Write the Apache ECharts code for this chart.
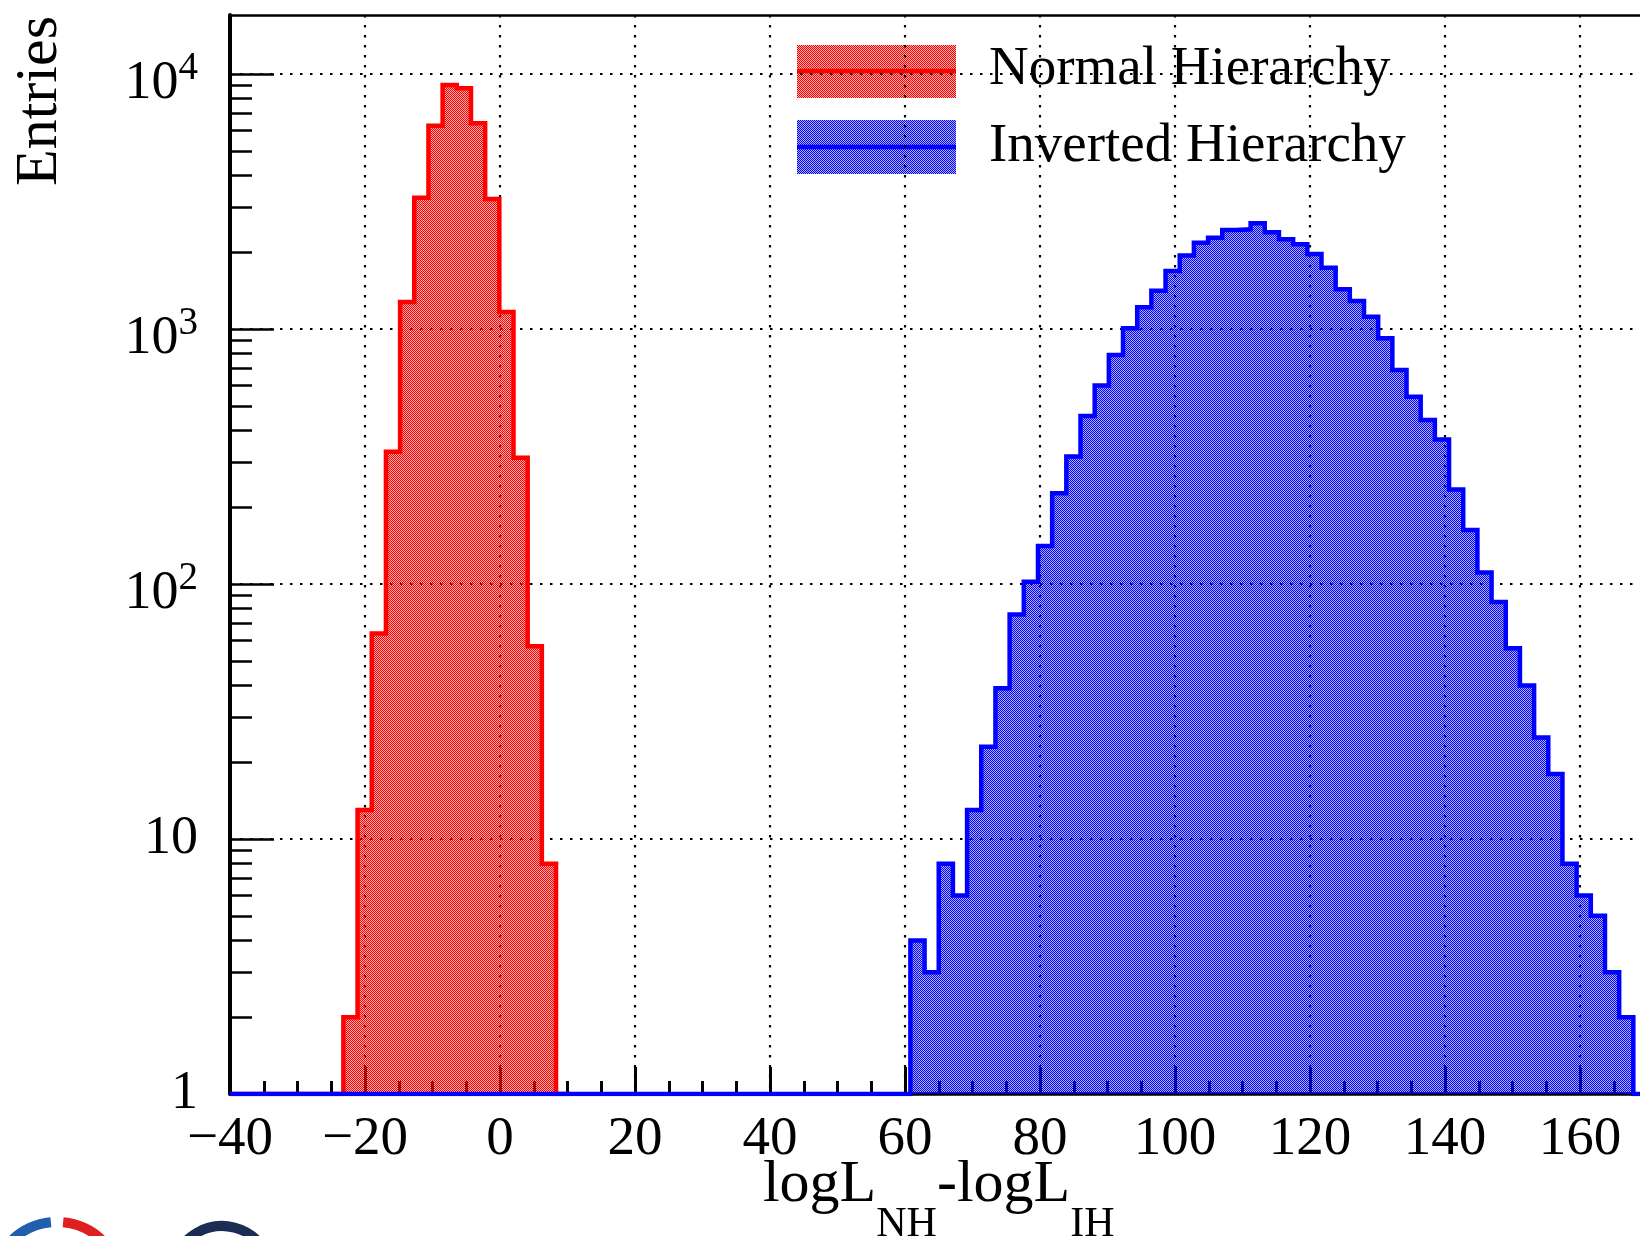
<!DOCTYPE html>
<html>
<head>
<meta charset="utf-8">
<script src="https://cdn.jsdelivr.net/npm/echarts@6/dist/echarts.min.js"></script>
<style>
html, body { margin: 0; padding: 0; background: #fff; }
#chart { width: 1640px; height: 1236px; }
</style>
</head>
<body>
<div id="chart"></div>
<script>
// histogram binning: 100 bins from -40 to 170
const binLo = -40;
const binWidth = 2.1;
const nBins = 100;

// Normal Hierarchy entries, first non-empty bin is 8
const nhFirstBin = 8;
const nhCounts = [2, 13, 64, 330, 1276, 3273, 6270, 9057, 8790, 6410, 3234, 1166, 313, 57, 8];

// Inverted Hierarchy entries, first non-empty bin is 48
const ihFirstBin = 48;
const ihCounts = [4, 3, 8, 6, 13, 23, 39, 76, 102, 141, 227, 316, 456, 601, 791, 1006, 1217, 1413,
  1687, 1944, 2179, 2279, 2445, 2460, 2596, 2395, 2248, 2148, 1968, 1740, 1431, 1288, 1117, 920,
  691, 543, 440, 369, 235, 163, 111, 85, 56, 40, 25, 18, 8, 6, 5, 3, 2];

const xMin = -40, xMax = 170;
const yMin = 1, yMax = 17036;
const yMajorTicks = [1, 10, 100, 1000, 10000];
const yMinorTicks = [2, 3, 4, 5, 6, 7, 8, 9, 20, 30, 40, 50, 60, 70, 80, 90,
  200, 300, 400, 500, 600, 700, 800, 900, 2000, 3000, 4000, 5000, 6000, 7000, 8000, 9000];
const xMinorTicks = [-35, -30, -25, -15, -10, -5, 5, 10, 15, 25, 30, 35, 45, 50, 55, 65, 70, 75,
  85, 90, 95, 105, 110, 115, 125, 130, 135, 145, 150, 155, 165];

const serif = "'Liberation Serif', 'DejaVu Serif', serif";

// fine checker fill like ROOT style 3001
function tile(solid, light) {
    const c = document.createElement('canvas');
    c.width = 2; c.height = 2;
    const g = c.getContext('2d');
    g.fillStyle = light;
    g.fillRect(1, 0, 1, 1);
    g.fillRect(0, 1, 1, 1);
    g.fillStyle = solid;
    g.fillRect(0, 0, 1, 1);
    g.fillRect(1, 1, 1, 1);
    return { image: c, repeat: 'repeat' };
}
const nhFill = tile('#ff0000', 'rgba(255,0,0,0.3)');
const ihFill = tile('#0000ff', 'rgba(0,0,255,0.3)');

// step outline: empty bins before the peak sit on the axis, the tail after it is dropped
function steps(firstBin, counts) {
    const lastBin = firstBin + counts.length - 1;
    const pts = [];
    for (let k = 0; k <= nBins; k++) {
        const c = counts[k - firstBin];
        const x = Math.round((binLo + k * binWidth) * 10) / 10;
        if (k > lastBin + 1) pts.push([x, null]);
        else pts.push([x, c > 0 ? c : yMin]);
    }
    return pts;
}

const dotted = { color: '#000', width: 2.2, type: [2.5, 7.5] };

const chart = echarts.init(document.getElementById('chart'));
chart.setOption({
    animation: false,
    backgroundColor: '#fff',
    grid: { left: 230, top: 15, width: 1417.5, height: 1079, outerBoundsMode: 'none' },
    xAxis: [
        {
            type: 'value', min: xMin, max: xMax, interval: 20, position: 'bottom',
            axisLine: { show: true, onZero: false, lineStyle: { color: '#000', width: 3.5 } },
            axisTick: { show: true, inside: true, length: 27, lineStyle: { color: '#000', width: 3 } },
            axisLabel: {
                margin: 18, fontSize: 55, fontFamily: serif, color: '#000', showMaxLabel: false,
                formatter: v => String(v).replace('-', '\u2212')
            },
            splitLine: { show: true, lineStyle: dotted },
            name: '{m|logL}{s|NH}{m|-logL}{s|IH}',
            nameLocation: 'middle', nameGap: 61, nameMoveOverlap: false,
            nameTextStyle: {
                fontFamily: serif, color: '#000',
                rich: {
                    m: { fontSize: 60, lineHeight: 60, verticalAlign: 'top', fontFamily: serif, color: '#000' },
                    s: { fontSize: 42, lineHeight: 42, padding: [49, 0, 0, 0], verticalAlign: 'top', fontFamily: serif, color: '#000' }
                }
            }
        },
        {
            type: 'value', min: xMin, max: xMax, position: 'bottom',
            axisLine: { show: false, onZero: false },
            axisTick: { show: true, inside: true, length: 13, customValues: xMinorTicks, lineStyle: { color: '#000', width: 3 } },
            axisLabel: { show: false },
            splitLine: { show: false }
        },
        {
            type: 'value', min: xMin, max: xMax, position: 'top',
            axisLine: { show: true, onZero: false, lineStyle: { color: '#000', width: 2.7 } },
            axisTick: { show: false },
            axisLabel: { show: false },
            splitLine: { show: false }
        }
    ],
    yAxis: [
        {
            type: 'log', logBase: 10, min: yMin, max: yMax, position: 'left',
            axisLine: { show: true, onZero: false, lineStyle: { color: '#000', width: 4 } },
            axisTick: { show: true, inside: true, length: 44, customValues: yMajorTicks, lineStyle: { color: '#000', width: 2.5 } },
            axisLabel: {
                margin: 32, fontSize: 54, fontFamily: serif, color: '#000', customValues: yMajorTicks,
                formatter: v => {
                    const e = Math.round(Math.log10(v));
                    if (e === 0) return '1';
                    if (e === 1) return '10';
                    return '{b|10}{sup|' + e + '}';
                },
                rich: {
                    b: { fontSize: 54, lineHeight: 54, padding: [19, 0, 0, 0], fontFamily: serif, color: '#000' },
                    sup: { fontSize: 39, lineHeight: 39, padding: [0, 0, 10, 0], fontFamily: serif, color: '#000' }
                }
            },
            splitLine: { show: true, lineStyle: dotted }
        },
        {
            type: 'log', logBase: 10, min: yMin, max: yMax, position: 'left',
            axisLine: { show: false, onZero: false },
            axisTick: { show: true, inside: true, length: 22, customValues: yMinorTicks, lineStyle: { color: '#000', width: 2.5 } },
            axisLabel: { show: false },
            splitLine: { show: false }
        }
    ],
    series: [
        {
            name: 'Normal Hierarchy', type: 'line', step: 'end', symbol: 'none',
            data: steps(nhFirstBin, nhCounts),
            lineStyle: { color: '#ff0000', width: 4.5, join: 'miter' },
            itemStyle: { color: '#ff0000' },
            areaStyle: { color: nhFill, opacity: 1, origin: 'start' }
        },
        {
            name: 'Inverted Hierarchy', type: 'line', step: 'end', symbol: 'none',
            data: steps(ihFirstBin, ihCounts),
            lineStyle: { color: '#0000ff', width: 4.5, join: 'miter' },
            itemStyle: { color: '#0000ff' },
            areaStyle: { color: ihFill, opacity: 1, origin: 'start' }
        }
    ],
    graphic: [
        { type: 'text', x: 40, y: 16, rotation: Math.PI / 2,
          style: { text: 'Entries', font: '60px ' + serif, fill: '#000', align: 'right', verticalAlign: 'middle' } },
        { type: 'rect', shape: { x: 797, y: 45, width: 159, height: 53 }, style: { fill: nhFill } },
        { type: 'line', shape: { x1: 797, y1: 71, x2: 956, y2: 71 }, style: { stroke: '#ff0000', lineWidth: 4.5 } },
        { type: 'text', x: 989, y: 70, style: { text: 'Normal Hierarchy', font: '55px ' + serif, fill: '#000', align: 'left', verticalAlign: 'middle' } },
        { type: 'rect', shape: { x: 797, y: 120, width: 159, height: 54 }, style: { fill: ihFill } },
        { type: 'line', shape: { x1: 797, y1: 147, x2: 956, y2: 147 }, style: { stroke: '#0000ff', lineWidth: 4.5 } },
        { type: 'text', x: 989, y: 147, style: { text: 'Inverted Hierarchy', font: '55px ' + serif, fill: '#000', align: 'left', verticalAlign: 'middle' } },
        { type: 'arc', shape: { cx: 57, cy: 1287, r: 65, startAngle: Math.PI * 1.05, endAngle: Math.PI * 1.47 },
          style: { stroke: '#1f5fae', lineWidth: 10, fill: 'none' } },
        { type: 'arc', shape: { cx: 57, cy: 1287, r: 65, startAngle: Math.PI * 1.53, endAngle: Math.PI * 1.95 },
          style: { stroke: '#e02020', lineWidth: 10, fill: 'none' } },
        { type: 'arc', shape: { cx: 222, cy: 1276, r: 50, startAngle: Math.PI * 1.08, endAngle: Math.PI * 1.92 },
          style: { stroke: '#1b2d52', lineWidth: 10, fill: 'none' } }
    ]
});
</script>
</body>
</html>
